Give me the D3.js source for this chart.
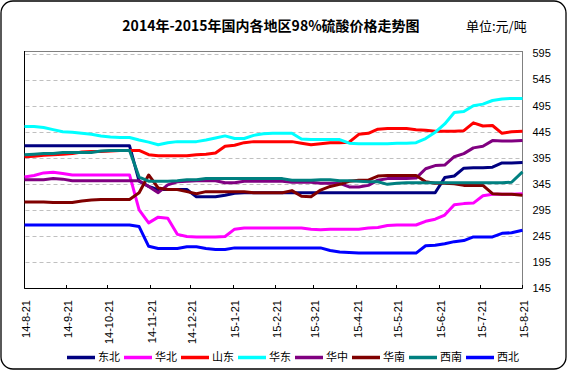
<!DOCTYPE html>
<html>
<head>
<meta charset="utf-8">
<script src="https://cdn.jsdelivr.net/npm/d3@7"></script>
<style>
body { margin: 0; background: #fff; }
text { font-family: Arial, "Liberation Sans", sans-serif; fill: #000; }
.cjk { font-family: "Noto Sans CJK SC", sans-serif; }
</style>
</head>
<body>
<div class="chart"></div>
<script>
// weekly price dates
var dates = ["2014-08-21","2014-08-28","2014-09-04","2014-09-11","2014-09-18","2014-09-25","2014-10-02",
  "2014-10-09","2014-10-16","2014-10-23","2014-10-30","2014-11-06","2014-11-13","2014-11-20","2014-11-27",
  "2014-12-04","2014-12-11","2014-12-18","2014-12-25","2015-01-01","2015-01-08","2015-01-15","2015-01-22",
  "2015-01-29","2015-02-05","2015-02-12","2015-02-19","2015-02-26","2015-03-05","2015-03-12","2015-03-19",
  "2015-03-26","2015-04-02","2015-04-09","2015-04-16","2015-04-23","2015-04-30","2015-05-07","2015-05-14",
  "2015-05-21","2015-05-28","2015-06-04","2015-06-11","2015-06-18","2015-06-25","2015-07-02","2015-07-09",
  "2015-07-16","2015-07-23","2015-07-30","2015-08-06","2015-08-13","2015-08-21"];

var dongbei = [418,418,418,418,418,418,418,418,418,418,418,418,
  350,340,334,334,334,334,320,320,320,323,327,
  328,328,328,328,328,328,328,328,328,328,328,328,328,328,328,328,328,328,328,328,328,
  357,360,375,376,376,377,385,385,386];
var huabei = [358,361,366,367,365,362,362,362,362,362,362,362,
  295,270,281,279,248,244,243,243,243,244,
  258,260,260,260,260,260,260,260,
  258,257,258,258,258,258,
  260,261,265,266,266,266,
  273,277,285,305,307,308,322,325,325,325,326];
var shandong = [397,398,400,401,402,403,406,407,407,408,409,409,409,
  401,399,399,399,399,401,402,404,417,419,424,426,426,
  426,426,426,423,420,422,424,424,425,440,442,450,451,
  451,451,449,448,446,446,446,447,462,456,457,442,445,446];
var huadong = [455,455,453,449,445,444,442,440,437,435,434,434,429,
  425,420,424,426,426,426,429,433,437,432,432,438,441,
  442,442,442,431,430,430,430,430,423,422,422,422,422,
  423,423,424,432,444,460,482,484,495,498,505,508,509,509];
var huazhong = [353,353,353,355,354,351,351,351,351,351,351,351,351,
  340,328,343,349,350,351,351,351,347,347,350,350,350,
  350,350,348,348,348,346,346,346,339,339,342,352,355,
  355,355,356,374,380,381,397,403,414,417,428,427,427,428];
var huanan = [310,310,310,309,309,309,312,314,315,315,315,315,328,
  362,337,334,334,330,326,330,330,330,330,330,328,328,
  328,328,332,321,320,333,340,344,350,352,352,360,361,
  361,361,361,349,346,346,345,342,342,342,326,325,325,323];
var xinan = [401,402,403,403,405,405,405,405,408,409,409,409,358,
  350,350,350,351,353,353,355,355,355,355,355,355,355,
  355,355,352,352,352,353,353,351,351,350,349,349,344,
  346,347,347,347,347,347,347,347,347,347,347,347,348,368];
var xibei = [266,266,266,266,266,266,266,266,266,266,266,266,
  263,225,221,221,221,224,224,221,219,219,
  222,222,222,222,222,222,222,222,222,222,
  217,214,213,212,212,212,212,212,212,212,
  226,227,230,234,236,243,243,243,250,251,256];

var regions = ["东北", "华北", "山东", "华东", "华中", "华南", "西南", "西北"];
var colors = ["#000080", "#ff00ff", "#ff0000", "#00ffff", "#800080", "#800000", "#008080", "#0000ff"];
var seriesValues = [dongbei, huabei, shandong, huadong, huazhong, huanan, xinan, xibei];

var yTicks = [145, 195, 245, 295, 345, 395, 445, 495, 545, 595];
var xTicks = ["2014-08-21","2014-09-21","2014-10-21","2014-11-21","2014-12-21","2015-01-21","2015-02-21",
  "2015-03-21","2015-04-21","2015-05-21","2015-06-21","2015-07-21","2015-08-21"];

var svgWidth = 567;
var svgHeight = 371;

var margin = {
  top: 51,
  right: 45,
  bottom: 83,
  left: 24
};

var width = svgWidth - margin.left - margin.right;
var height = svgHeight - margin.top - margin.bottom;

var parseDate = d3.timeParse("%Y-%m-%d");
var formatDate = d3.timeFormat("%y-%-m-%-d");

var svg = d3.select(".chart")
  .append("svg")
  .attr("width", svgWidth)
  .attr("height", svgHeight);

// outer rounded border
svg.append("rect")
  .attr("x", 1)
  .attr("y", 1)
  .attr("width", svgWidth - 2)
  .attr("height", svgHeight - 3)
  .attr("rx", 12)
  .attr("fill", "#fff")
  .attr("stroke", "#000")
  .attr("stroke-width", 1.3);

svg.append("text")
  .attr("class", "cjk")
  .attr("x", 271)
  .attr("y", 31)
  .attr("text-anchor", "middle")
  .attr("font-size", 14)
  .attr("font-weight", "bold")
  .text("2014年-2015年国内各地区98%硫酸价格走势图");

svg.append("text")
  .attr("class", "cjk")
  .attr("x", 466)
  .attr("y", 31)
  .attr("font-size", 13)
  .text("单位:元/吨");

var chartGroup = svg.append("g")
  .attr("transform", `translate(${margin.left + 0.5}, ${margin.top})`);

var xScale = d3.scaleTime()
  .domain([parseDate(dates[0]), parseDate(dates[dates.length - 1])])
  .range([0, width]);

var yScale = d3.scaleLinear()
  .domain([145, 600])
  .range([height, 0]);

// frame
chartGroup.append("rect")
  .attr("x", 0)
  .attr("y", 0.5)
  .attr("width", width)
  .attr("height", height)
  .attr("fill", "none")
  .attr("stroke", "#808080")
  .attr("stroke-width", 1);

// dashed gridlines
chartGroup.selectAll(".grid")
  .data(yTicks.slice(1))
  .enter()
  .append("line")
  .attr("x1", 1)
  .attr("x2", width)
  .attr("y1", d => Math.round(yScale(d)) + 0.5)
  .attr("y2", d => Math.round(yScale(d)) + 0.5)
  .attr("stroke", "#c0c0c0")
  .attr("stroke-dasharray", "4,3");

// left and bottom axis lines
chartGroup.append("line")
  .attr("x1", 0).attr("x2", 0)
  .attr("y1", 0).attr("y2", height + 0.5)
  .attr("stroke", "#000");
chartGroup.append("line")
  .attr("x1", 0).attr("x2", width)
  .attr("y1", height + 0.5).attr("y2", height + 0.5)
  .attr("stroke", "#000");

// y labels on the right
chartGroup.selectAll(".ylab")
  .data(yTicks)
  .enter()
  .append("text")
  .attr("x", width + 10)
  .attr("y", d => yScale(d))
  .attr("dy", "0.35em")
  .attr("font-size", 11)
  .text(d => d);

// x ticks and rotated labels
var xTickGroup = chartGroup.selectAll(".xtick")
  .data(xTicks.map(parseDate))
  .enter()
  .append("g")
  .attr("transform", d => `translate(${Math.round(xScale(d))}, 0)`);

xTickGroup.append("line")
  .attr("y1", height - 3)
  .attr("y2", height)
  .attr("stroke", "#000");

xTickGroup.append("text")
  .attr("transform", `translate(1.5, ${height + 12}) rotate(-90)`)
  .attr("text-anchor", "end")
  .attr("dy", "0.35em")
  .attr("font-size", 11)
  .text(d => formatDate(d));

// price lines
var line = d3.line()
  .x((d, i) => xScale(parseDate(dates[i])))
  .y(d => yScale(d));

chartGroup.selectAll(".series")
  .data(seriesValues)
  .enter()
  .append("path")
  .attr("d", d => line(d))
  .attr("fill", "none")
  .attr("stroke", (d, i) => colors[i])
  .attr("stroke-width", 3)
  .attr("stroke-linejoin", "round");

// legend
var legend = svg.append("g")
  .attr("transform", "translate(67, 357.5)");

var legendItem = legend.selectAll(".item")
  .data(regions)
  .enter()
  .append("g")
  .attr("transform", (d, i) => `translate(${i * 57}, 0)`);

legendItem.append("line")
  .attr("x1", 0)
  .attr("x2", 28)
  .attr("stroke", (d, i) => colors[i])
  .attr("stroke-width", 3.5);

legendItem.append("text")
  .attr("class", "cjk")
  .attr("x", 31)
  .attr("dy", "0.35em")
  .attr("font-size", 11)
  .text(d => d);
</script>
</body>
</html>
